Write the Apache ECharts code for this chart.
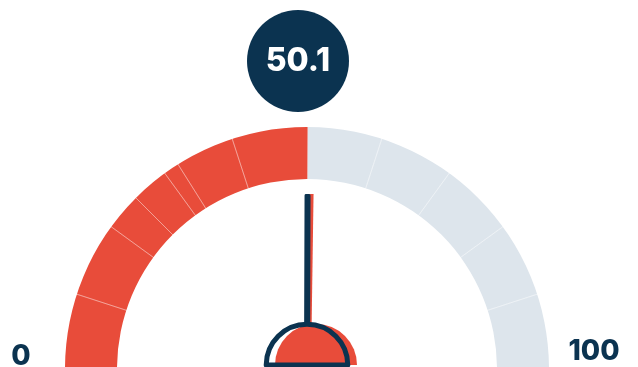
<!DOCTYPE html>
<html>
<head>
<meta charset="utf-8">
<script src="https://cdn.jsdelivr.net/npm/echarts@6/dist/echarts.min.js"></script>
<style>
html,body{margin:0;padding:0;background:#fff;}
#chart{width:638px;height:367px;}
</style>
</head>
<body>
<div id="chart"></div>
<script>
// ---- data ----
const gaugeMin = 0;
const gaugeMax = 100;
const gaugeValue = 50.1;
const segmentBreaks = [0, 10, 20, 25, 30, 32.1, 40, 60, 70, 80, 90, 100];
const tickLabels = ['0', '100'];

// ---- styles ----
const RED = '#E84C3A';
const GREY = '#DDE5EC';
const NAVY = '#0B3350';
const FONT = 'Inter, "Open Sans", sans-serif';
const CX = 307, CY = 369;

const chart = echarts.init(document.getElementById('chart'), null, {renderer: 'canvas'});

const bandData = [
  {value: gaugeValue - gaugeMin, itemStyle: {color: RED}},
  {value: gaugeMax - gaugeValue, itemStyle: {color: GREY}}
];
const sepData = [];
for (let i = 1; i < segmentBreaks.length; i++) {
  sepData.push({value: segmentBreaks[i] - segmentBreaks[i - 1]});
}

const commonPie = {
  type: 'pie',
  center: [CX, CY],
  startAngle: 180,
  endAngle: 0,
  clockwise: true,
  silent: true,
  animation: false,
  label: {show: false},
  labelLine: {show: false},
  emphasis: {disabled: true},
  avoidLabelOverlap: false
};

const commonGauge = {
  type: 'gauge',
  center: [CX, CY],
  radius: 242,
  startAngle: 180,
  endAngle: 0,
  min: gaugeMin,
  max: gaugeMax,
  silent: true,
  animation: false,
  axisLine: {show: false},
  splitLine: {show: false},
  axisTick: {show: false},
  axisLabel: {show: false},
  anchor: {show: false},
  title: {show: false}
};

chart.setOption({
  backgroundColor: '#fff',
  series: [
    Object.assign({}, commonPie, {
      radius: [190, 242],
      data: bandData,
      itemStyle: {borderWidth: 0}
    }),
    Object.assign({}, commonPie, {
      radius: [186, 246],
      data: sepData,
      itemStyle: {color: 'rgba(0,0,0,0)', borderColor: 'rgba(255,255,255,0.28)', borderWidth: 1}
    }),
    Object.assign({}, commonGauge, {
      pointer: {
        icon: 'path://M0,0 L10,0 L6,100 L4,100 Z',
        length: 175,
        width: 5,
        offsetCenter: [3.5, 0],
        itemStyle: {color: RED}
      },
      detail: {show: false},
      data: [{value: gaugeValue}]
    }),
    Object.assign({}, commonGauge, {
      pointer: {
        icon: 'roundRect',
        length: 175,
        width: 6,
        itemStyle: {color: NAVY}
      },
      detail: {
        show: true,
        offsetCenter: [-9, -308],
        formatter: function (v) { return v.toFixed(1); },
        color: '#fff',
        fontSize: 32,
        fontWeight: 800,
        fontFamily: FONT,
        backgroundColor: NAVY,
        width: 102,
        height: 102,
        lineHeight: 102,
        borderRadius: 51,
        align: 'center',
        verticalAlign: 'middle',
        padding: 0
      },
      data: [{value: gaugeValue}]
    })
  ],
  graphic: [
    {type: 'sector', z: 100, shape: {cx: 307, cy: 365, r: 41, r0: 0, startAngle: Math.PI, endAngle: Math.PI * 2, clockwise: true}, style: {fill: '#fff'}},
    {type: 'sector', z: 101, shape: {cx: 316, cy: 365, r: 41, r0: 0, startAngle: Math.PI, endAngle: Math.PI * 2, clockwise: true}, style: {fill: RED}},
    {type: 'sector', z: 102, shape: {cx: 307, cy: 365, r: 40.8, r0: 0, startAngle: Math.PI, endAngle: Math.PI * 2, clockwise: true}, style: {fill: 'none', stroke: NAVY, lineWidth: 5, lineJoin: 'round'}},
    {type: 'text', z: 103, x: 21, y: 357, style: {text: tickLabels[0], fill: NAVY, font: '800 28px ' + FONT, textAlign: 'center', textVerticalAlign: 'middle'}},
    {type: 'text', z: 103, x: 594, y: 352, style: {text: tickLabels[1], fill: NAVY, font: '800 28px ' + FONT, textAlign: 'center', textVerticalAlign: 'middle'}}
  ]
});
</script>
</body>
</html>
